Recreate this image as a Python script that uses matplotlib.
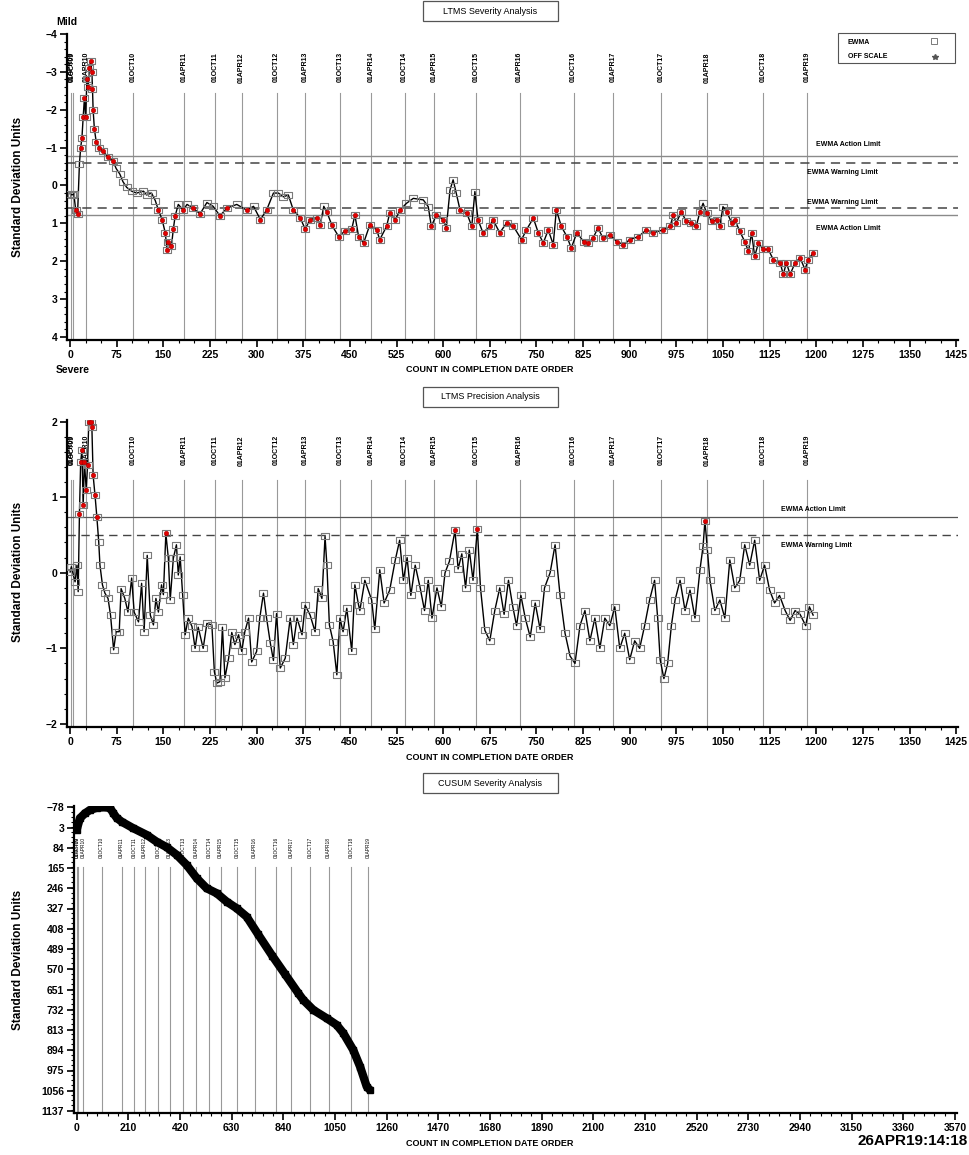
import numpy as np
import matplotlib
matplotlib.use('Agg')
import matplotlib.pyplot as plt
import matplotlib.transforms as mtrans
from matplotlib.patches import Rectangle
from matplotlib.lines import Line2D
from matplotlib.ticker import MultipleLocator

plt.rcParams['font.family'] = ['Liberation Sans', 'DejaVu Sans']

# date reference lines (count at which each date starts)
date_count = [2, 4, 26, 101, 183, 233, 276, 332, 378, 434, 484, 538, 585, 653,
              723, 810, 873, 950, 1024, 1114, 1185]
date_label = ["01APR09", "01OCT09", "01APR10", "01OCT10", "01APR11", "01OCT11",
              "01APR12", "01OCT12", "01APR13", "01OCT13", "01APR14", "01OCT14",
              "01APR15", "01OCT15", "01APR16", "01OCT16", "01APR17", "01OCT17",
              "01APR18", "01OCT18", "01APR19"]

# LTMS severity EWMA
sev_count = [0, 3, 6, 9, 12, 15, 17, 19, 21, 23, 25, 27, 29, 31, 33, 35, 36, 37, 39, 42,
             47, 53, 61, 69, 74, 80, 85, 91, 99, 107, 118, 123, 131, 137, 142, 148, 153,
             156, 158, 163, 166, 169, 174, 182, 188, 198, 209, 220, 230, 241, 252, 268,
             284, 295, 306, 316, 327, 335, 343, 351, 359, 370, 378, 386, 397, 402, 408,
             413, 421, 432, 442, 453, 458, 464, 472, 482, 493, 498, 509, 514, 523, 531,
             541, 552, 568, 576, 581, 589, 600, 605, 611, 616, 621, 627, 638, 646, 651,
             656, 664, 675, 680, 691, 702, 713, 726, 734, 745, 753, 761, 769, 777, 782,
             790, 799, 806, 815, 826, 833, 841, 849, 857, 868, 879, 890, 900, 914, 927,
             938, 954, 965, 970, 975, 983, 991, 999, 1007, 1013, 1018, 1024, 1032, 1040,
             1045, 1050, 1056, 1064, 1069, 1077, 1085, 1091, 1096, 1101, 1107, 1115, 1123,
             1131, 1142, 1147, 1152, 1158, 1166, 1174, 1182, 1187, 1195]
sev_value = [0.22, 0.25, 0.22, 0.65, 0.75, -0.58, -1.0, -1.25, -1.8, -2.3, -1.8, -2.8, -2.6,
             -3.1, -3.3, -3.0, -2.55, -2.0, -1.5, -1.15, -1.0, -0.9, -0.75, -0.65, -0.45,
             -0.3, -0.1, 0.05, 0.15, 0.2, 0.15, 0.25, 0.2, 0.4, 0.65, 0.9, 1.25, 1.7, 1.5,
             1.6, 1.15, 0.8, 0.5, 0.65, 0.5, 0.6, 0.75, 0.45, 0.55, 0.8, 0.6, 0.5, 0.65,
             0.55, 0.9, 0.65, 0.2, 0.2, 0.3, 0.25, 0.65, 0.85, 1.15, 0.9, 0.85, 1.05, 0.55,
             0.7, 1.05, 1.35, 1.2, 1.15, 0.78, 1.35, 1.52, 1.04, 1.17, 1.43, 1.08, 0.73,
             0.9, 0.64, 0.47, 0.34, 0.38, 0.56, 1.08, 0.78, 0.9, 1.12, 0.12, -0.15, 0.2,
             0.64, 0.73, 1.08, 0.16, 0.9, 1.25, 1.08, 0.9, 1.25, 0.99, 1.08, 1.43, 1.17,
             0.86, 1.25, 1.52, 1.17, 1.56, 0.64, 1.08, 1.35, 1.65, 1.25, 1.48, 1.52, 1.39,
             1.12, 1.39, 1.3, 1.48, 1.56, 1.43, 1.35, 1.17, 1.25, 1.17, 1.08, 0.78, 0.99,
             0.69, 0.95, 0.99, 1.08, 0.69, 0.47, 0.73, 0.95, 0.9, 1.08, 0.56, 0.69, 0.99,
             0.9, 1.21, 1.48, 1.74, 1.25, 1.87, 1.52, 1.69, 1.69, 1.96, 2.04, 2.35, 2.04,
             2.35, 2.04, 1.91, 2.22, 1.96, 1.78]
sev_warn = 0.59
sev_action = 0.79

# LTMS precision EWMA
pre_count = [0, 2, 8, 11, 13, 15, 17, 19, 21, 23, 26, 28, 30, 34, 35, 37, 40, 43, 46, 48,
             52, 56, 61, 65, 70, 74, 79, 82, 88, 93, 99, 103, 110, 115, 119, 124, 129, 134,
             138, 142, 147, 150, 154, 158, 161, 166, 171, 174, 177, 181, 185, 190, 196, 201,
             206, 214, 220, 228, 232, 236, 241, 245, 249, 255, 260, 265, 271, 276, 281, 287,
             292, 300, 305, 311, 316, 322, 327, 332, 338, 346, 354, 359, 365, 373, 378, 386,
             394, 399, 405, 410, 413, 417, 423, 429, 434, 439, 445, 453, 458, 464, 466, 474,
             485, 490, 498, 505, 514, 523, 530, 536, 542, 548, 555, 563, 570, 576, 582, 590,
             597, 603, 610, 619, 624, 630, 636, 642, 648, 655, 660, 667, 675, 683, 691, 698,
             705, 712, 718, 725, 732, 740, 748, 756, 763, 772, 780, 788, 796, 804, 812, 820,
             828, 836, 844, 852, 860, 868, 876, 884, 892, 900, 908, 916, 924, 932, 940, 945,
             949, 955, 961, 967, 973, 981, 989, 997, 1005, 1013, 1018, 1021, 1025, 1029,
             1037, 1045, 1053, 1061, 1069, 1077, 1085, 1093, 1101, 1109, 1117, 1125, 1133,
             1141, 1150, 1158, 1166, 1174, 1183, 1189, 1195]
pre_value = [0.01, 0.08, -0.12, 0.1, -0.25, 0.78, 1.47, 1.62, 0.89, 1.47, 1.09, 1.42, 2.0,
             2.0, 1.93, 1.29, 1.03, 0.74, 0.41, 0.1, -0.16, -0.27, -0.34, -0.56, -1.02,
             -0.78, -0.78, -0.21, -0.34, -0.52, -0.07, -0.52, -0.65, -0.14, -0.78, 0.23,
             -0.56, -0.69, -0.34, -0.52, -0.16, -0.29, 0.52, 0.19, -0.36, 0.19, 0.37, -0.03,
             0.21, -0.29, -0.82, -0.6, -0.71, -1.0, -0.72, -1.0, -0.67, -0.69, -1.31, -1.46,
             -1.44, -0.72, -1.39, -1.13, -0.79, -0.95, -0.82, -1.04, -0.78, -0.6, -1.18,
             -1.04, -0.6, -0.27, -0.6, -0.93, -1.16, -0.54, -1.26, -1.13, -0.6, -0.95, -0.6,
             -0.82, -0.43, -0.56, -0.78, -0.21, -0.34, 0.48, 0.1, -0.69, -0.91, -1.35, -0.6,
             -0.78, -0.47, -1.04, -0.16, -0.43, -0.5, -0.1, -0.36, -0.75, 0.04, -0.4, -0.23,
             0.17, 0.43, -0.1, 0.2, -0.3, 0.1, -0.2, -0.5, -0.1, -0.6, -0.2, -0.45, 0.0, 0.15,
             0.56, 0.05, 0.25, -0.2, 0.3, -0.1, 0.58, -0.2, -0.76, -0.9, -0.5, -0.2, -0.55,
             -0.1, -0.45, -0.7, -0.3, -0.6, -0.85, -0.4, -0.75, -0.2, 0.0, 0.37, -0.3, -0.8,
             -1.1, -1.2, -0.7, -0.5, -0.9, -0.6, -1.0, -0.6, -0.7, -0.45, -1.0, -0.8, -1.15,
             -0.9, -1.0, -0.7, -0.36, -0.1, -0.6, -1.15, -1.4, -1.2, -0.7, -0.36, -0.1, -0.5,
             -0.23, -0.6, 0.04, 0.35, 0.69, 0.3, -0.1, -0.5, -0.36, -0.6, 0.17, -0.2, -0.1,
             0.37, 0.1, 0.43, -0.1, 0.1, -0.23, -0.4, -0.3, -0.5, -0.63, -0.5, -0.55, -0.7,
             -0.45, -0.56]
pre_warn = 0.5
pre_action = 0.74

# CUSUM severity
cus_count = [0, 13, 34, 54, 81, 110, 135, 149, 163, 183, 230, 285, 325, 366, 407, 447, 488,
             528, 569, 610, 650, 691, 737, 794, 847, 900, 921, 962, 1016, 1057, 1084, 1124,
             1152, 1179, 1192]
cus_value = [12, -34, -54, -67, -76, -78, -76, -54, -35, -20, 6, 33, 60, 82, 113, 153, 206,
             246, 266, 300, 326, 360, 430, 515, 590, 665, 693, 733, 766, 793, 826, 893, 960,
             1040, 1053]

W, H = 970, 1155
fig = plt.figure(figsize=(W / 100, H / 100), dpi=100)


def fx(x):
    return x / W


def fy(y):
    return 1 - y / H


def add_ax(l, t, r, b):
    return fig.add_axes([fx(l), fy(b), (r - l) / W, (b - t) / H])


def style(ax):
    for s in ['top', 'right']:
        ax.spines[s].set_visible(False)
    for s in ['left', 'bottom']:
        ax.spines[s].set_linewidth(1.6)
    ax.tick_params(which='major', direction='out', length=5, width=1.2, labelsize=7.5, pad=2)
    ax.tick_params(which='minor', direction='out', length=2.5, width=0.8)
    plt.setp(ax.get_xticklabels() + ax.get_yticklabels(), fontweight='bold')


def date_marks(ax, label_top, line_top, size, bold):
    trans = mtrans.blended_transform_factory(ax.transData, ax.transAxes)
    for c, lab in zip(date_count, date_label):
        ax.plot([c, c], [0, line_top], transform=trans, color='#999999', lw=0.8, zorder=1)
        ax.text(c, label_top, lab, transform=trans, rotation=90, ha='center', va='top',
                fontsize=size, fontweight='bold' if bold else 'normal')


rect = [(-1.4, -1), (1.4, -1), (1.4, 1), (-1.4, 1), (-1.4, -1)]


def plot_ewma(ax, c, v, red_mask):
    c = np.array(c)
    v = np.array(v)
    ax.plot(c, v, color='black', lw=1.0, zorder=3)
    ax.plot(c, v, ls='none', marker=rect, ms=6, mfc='none', mec='#7a7a7a', mew=0.8, zorder=4)
    m = red_mask(v)
    ax.plot(c[m], v[m], ls='none', marker='o', ms=3.2, color='#e00000', mec='#b00000',
            mew=0.4, zorder=5)


def title_box(ytop, text):
    fig.patches.append(Rectangle((fx(423), fy(ytop + 20)), 135 / W, 20 / H,
                                 transform=fig.transFigure, fill=False, ec='#555555', lw=0.9))
    fig.text(fx(490.5), fy(ytop + 10), text, ha='center', va='center', fontsize=6.5)


def xlabel_at(y):
    fig.text(fx(490), fy(y), "COUNT IN COMPLETION DATE ORDER", ha='center', va='center',
             fontsize=6.5, fontweight='bold')


def ylabel_at(y):
    fig.text(fx(18), fy(y), "Standard Deviation Units", ha='center', va='center',
             rotation=90, fontsize=8.5, fontweight='bold')


# ---------------- top panel: severity ----------------
ax1 = add_ax(67, 34, 958, 340)
ax1.set_xlim(-5, 1428)
ax1.set_ylim(4.08, -4.0)
ax1.set_xticks(np.arange(0, 1426, 75))
ax1.set_yticks(np.arange(-4, 5, 1))
ax1.xaxis.set_minor_locator(MultipleLocator(25))
ax1.yaxis.set_minor_locator(MultipleLocator(0.2))
style(ax1)
for lim in [-sev_action, sev_action]:
    ax1.axhline(lim, color='#8a8a8a', lw=1.0, zorder=2)
for lim in [-sev_warn, sev_warn]:
    ax1.axhline(lim, color='#444444', lw=1.1, ls=(0, (6, 4)), zorder=2)
date_marks(ax1, 0.941, 0.807, 5, True)
plot_ewma(ax1, sev_count, sev_value, lambda v: np.abs(v) > sev_warn)

title_box(1, "LTMS Severity Analysis")
fig.text(fx(56), fy(22), "Mild", ha='left', va='center', fontsize=7.5, fontweight='bold')
fig.text(fx(56), fy(370), "Severe", ha='left', va='center', fontsize=7.5, fontweight='bold')
xlabel_at(370)
ylabel_at(187)
fig.text(fx(816), fy(145), "EWMA Action Limit", fontsize=5, fontweight='bold', va='center')
fig.text(fx(807), fy(172), "EWMA Warning Limit", fontsize=5, fontweight='bold', va='center')
fig.text(fx(807), fy(203), "EWMA Warning Limit", fontsize=5, fontweight='bold', va='center')
fig.text(fx(816), fy(229), "EWMA Action Limit", fontsize=5, fontweight='bold', va='center')

# legend box
fig.patches.append(Rectangle((fx(838), fy(63)), 117 / W, 30 / H, transform=fig.transFigure,
                             fill=False, ec='#555555', lw=0.8))
fig.text(fx(848), fy(42), "EWMA", fontsize=5, fontweight='bold', va='center')
fig.text(fx(848), fy(57), "OFF SCALE", fontsize=5, fontweight='bold', va='center')
fig.lines.append(Line2D([fx(934)], [fy(41)], transform=fig.transFigure, marker='s', ms=4,
                        mfc='none', mec='#7a7a7a', mew=0.7, ls='none'))
fig.lines.append(Line2D([fx(935)], [fy(57)], transform=fig.transFigure, marker='*', ms=4,
                        color='#555555', ls='none'))

# ---------------- middle panel: precision ----------------
ax2 = add_ax(67, 420, 958, 727)
ax2.set_xlim(-5, 1428)
ax2.set_ylim(-2.04, 2.02)
ax2.set_xticks(np.arange(0, 1426, 75))
ax2.set_yticks(np.arange(-2, 3, 1))
ax2.xaxis.set_minor_locator(MultipleLocator(25))
ax2.yaxis.set_minor_locator(MultipleLocator(0.2))
style(ax2)
ax2.axhline(pre_action, color='#555555', lw=0.9, zorder=2)
ax2.axhline(pre_warn, color='#444444', lw=1.0, ls=(0, (6, 4)), zorder=2)
date_marks(ax2, 0.951, 0.805, 5, True)
plot_ewma(ax2, pre_count, pre_value, lambda v: v > pre_warn)

title_box(387, "LTMS Precision Analysis")
xlabel_at(757)
ylabel_at(572)
fig.text(fx(781), fy(510), "EWMA Action Limit", fontsize=5, fontweight='bold', va='center')
fig.text(fx(781), fy(546), "EWMA Warning Limit", fontsize=5, fontweight='bold', va='center')

# ---------------- bottom panel: CUSUM ----------------
ax3 = add_ax(74, 806, 957, 1113)
ax3.set_xlim(-11, 3578)
ax3.set_ylim(1145, -83)
ax3.set_xticks(np.arange(0, 3571, 210))
ax3.set_yticks(np.arange(-78, 1138, 81))
ax3.xaxis.set_minor_locator(MultipleLocator(42))
ax3.yaxis.set_minor_locator(MultipleLocator(20.25))
style(ax3)
date_marks(ax3, 0.899, 0.801, 3.5, False)
ax3.plot(cus_count, cus_value, color='black', lw=6, solid_capstyle='butt', zorder=3)
ax3.plot(cus_count, cus_value, ls='none', marker='s', ms=5, color='black', zorder=4)

title_box(773, "CUSUM Severity Analysis")
xlabel_at(1143)
ylabel_at(960)
fig.text(fx(968), fy(1141), "26APR19:14:18", ha='right', va='center', fontsize=11,
         fontweight='bold')

fig.savefig('out.png', dpi=100)
